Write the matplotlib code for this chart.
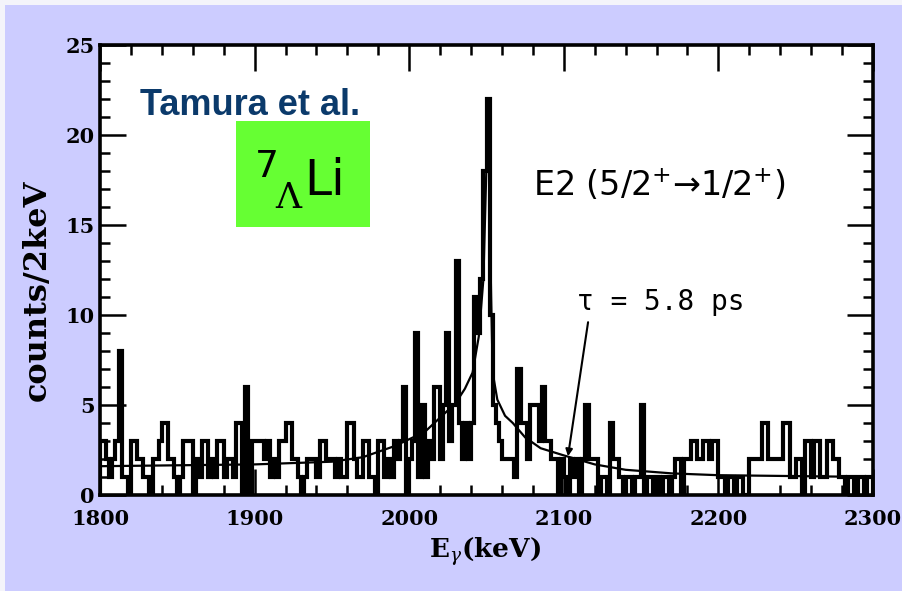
import numpy as np
import matplotlib
matplotlib.use("Agg")
import matplotlib.pyplot as plt
from matplotlib.patches import Rectangle
from matplotlib.ticker import MultipleLocator

# histogram: counts per 2 keV bin, 1800-2300 keV
bin_edges = np.arange(1800, 2302, 2)
counts = [
    3, 3, 2, 1, 2, 3, 8, 1, 1, 0,  # 1800
    3, 3, 2, 2, 1, 1, 0, 2, 2, 3,  # 1820
    4, 4, 2, 2, 1, 0, 1, 3, 3, 3,  # 1840
    0, 2, 1, 3, 3, 1, 2, 1, 3, 3,  # 1860
    1, 2, 2, 1, 4, 4, 0, 6, 0, 3,  # 1880
    3, 3, 3, 2, 3, 1, 2, 1, 3, 3,  # 1900
    4, 4, 2, 2, 1, 0, 1, 2, 2, 2,  # 1920
    1, 3, 3, 2, 2, 2, 1, 2, 1, 1,  # 1940
    4, 4, 2, 1, 1, 3, 3, 1, 1, 0,  # 1960
    3, 3, 1, 2, 1, 3, 2, 3, 6, 0,  # 1980
    2, 3, 9, 1, 5, 1, 3, 2, 6, 6,  # 2000
    2, 5, 9, 3, 5, 13, 4, 2, 4, 2,  # 2020
    4, 11, 9, 12, 18, 22, 10, 5, 4, 3,  # 2040
    2, 2, 2, 2, 1, 7, 4, 4, 2, 5,  # 2060
    5, 5, 3, 6, 3, 3, 2, 2, 0, 2,  # 2080
    1, 0, 2, 1, 2, 0, 2, 5, 2, 2,  # 2100
    2, 0, 1, 1, 0, 4, 2, 2, 1, 0,  # 2120
    1, 1, 0, 1, 1, 5, 0, 1, 1, 0,  # 2140
    1, 0, 1, 1, 0, 1, 2, 2, 0, 2,  # 2160
    2, 3, 3, 2, 2, 3, 3, 2, 3, 3,  # 2180
    1, 1, 0, 1, 1, 0, 1, 1, 0, 0,  # 2200
    2, 2, 2, 2, 4, 4, 2, 2, 2, 2,  # 2220
    2, 4, 4, 1, 1, 2, 2, 0, 3, 3,  # 2240
    1, 3, 3, 1, 1, 3, 3, 2, 2, 1,  # 2260
    1, 0, 1, 1, 0, 1, 1, 0, 1, 1,  # 2280
]

# fitted line shape
fit_energy = [1800, 1850, 1900, 1950, 1970, 1990, 2010, 2020, 2030, 2036,
              2041, 2045, 2048, 2050, 2051, 2052, 2053, 2054, 2057, 2062,
              2067, 2075, 2085, 2100, 2120, 2140, 2170, 2200, 2250, 2300]
fit_counts = [1.6, 1.65, 1.7, 1.85, 2.1, 2.7, 3.5, 4.3, 5.1, 5.9,
              6.8, 8.8, 12.0, 18.4, 22.0, 16.0, 11.0, 6.8, 5.3, 4.4,
              4.0, 3.2, 2.6, 2.2, 1.7, 1.4, 1.2, 1.1, 1.05, 1.0]

W, H = 902, 591
fig = plt.figure(figsize=(W / 100, H / 100), dpi=100, facecolor="#ccccff")
fig.patches.append(Rectangle((0, 1 - 5 / H), 1, 5 / H, transform=fig.transFigure,
                             facecolor="#f4f4fa", edgecolor="none"))
fig.patches.append(Rectangle((0, 0), 5 / W, 1, transform=fig.transFigure,
                             facecolor="#f4f4fa", edgecolor="none"))

ax = fig.add_axes([100 / W, 1 - 495 / H, 773 / W, 450 / H])
ax.set_facecolor("white")

ax.stairs(counts, bin_edges, color="black", linewidth=3.0)
ax.plot(fit_energy, fit_counts, color="black", linewidth=1.6)

ax.set_xlim(1800, 2300)
ax.set_ylim(0, 25)
ax.xaxis.set_major_locator(MultipleLocator(100))
ax.xaxis.set_minor_locator(MultipleLocator(20))
ax.yaxis.set_major_locator(MultipleLocator(5))
ax.yaxis.set_minor_locator(MultipleLocator(1))
ax.tick_params(which="both", direction="in", top=True, right=True, width=1.8)
ax.tick_params(which="major", length=19)
ax.tick_params(which="minor", length=7)
ax.tick_params(axis="x", which="major", pad=10)
ax.tick_params(axis="y", which="major", pad=4)
for sp in ax.spines.values():
    sp.set_linewidth(2.6)

for lab in ax.get_xticklabels() + ax.get_yticklabels():
    lab.set_fontfamily("DejaVu Serif")
    lab.set_fontweight("bold")
    lab.set_fontsize(15)

plt.rcParams["mathtext.fontset"] = "dejavuserif"
fig.text(485 / W, 1 - 552 / H, r"E$_{\gamma}$(keV)", ha="center", va="center",
         fontfamily="DejaVu Serif", fontweight="bold", fontsize=19)
fig.text(37 / W, 1 - 290 / H, "counts/2keV", ha="center", va="center",
         rotation=90, fontfamily="DejaVu Serif", fontweight="bold", fontsize=23)

# labels inside the plot
fig.text(140 / W, 1 - 115 / H, "Tamura et al.", ha="left", va="baseline",
         fontfamily="Liberation Sans", fontweight="bold", fontsize=26,
         color="#0b3a6b")
fig.patches.append(Rectangle((236 / W, 1 - 227 / H), 134 / W, 106 / H,
                             transform=fig.transFigure, facecolor="#66ff33",
                             edgecolor="none", zorder=3))
fig.text(255 / W, 1 - 177 / H, "7", ha="left", va="baseline",
         fontfamily="DejaVu Sans", fontsize=27, zorder=4)
fig.text(275 / W, 1 - 208 / H, "Λ", ha="left", va="baseline",
         fontfamily="DejaVu Serif", fontsize=26, zorder=4)
fig.text(304 / W, 1 - 195 / H, "Li", ha="left", va="baseline",
         fontfamily="DejaVu Sans", fontsize=35, zorder=4)

fig.text(533 / W, 1 - 196 / H, r"E2 (5/2$^{+}$→1/2$^{+}$)", ha="left",
         va="baseline", fontfamily="DejaVu Sans", fontsize=24)
fig.text(577 / W, 1 - 310 / H, "τ = 5.8 ps", ha="left", va="baseline",
         fontfamily="DejaVu Sans Mono", fontsize=20)

ax.annotate("", xy=(2102.7, 2.15), xytext=(2115.7, 9.6),
            arrowprops=dict(arrowstyle="-|>", color="black", lw=1.5,
                            mutation_scale=10, shrinkA=0, shrinkB=0))

fig.savefig("out.png", dpi=100, facecolor=fig.get_facecolor())
